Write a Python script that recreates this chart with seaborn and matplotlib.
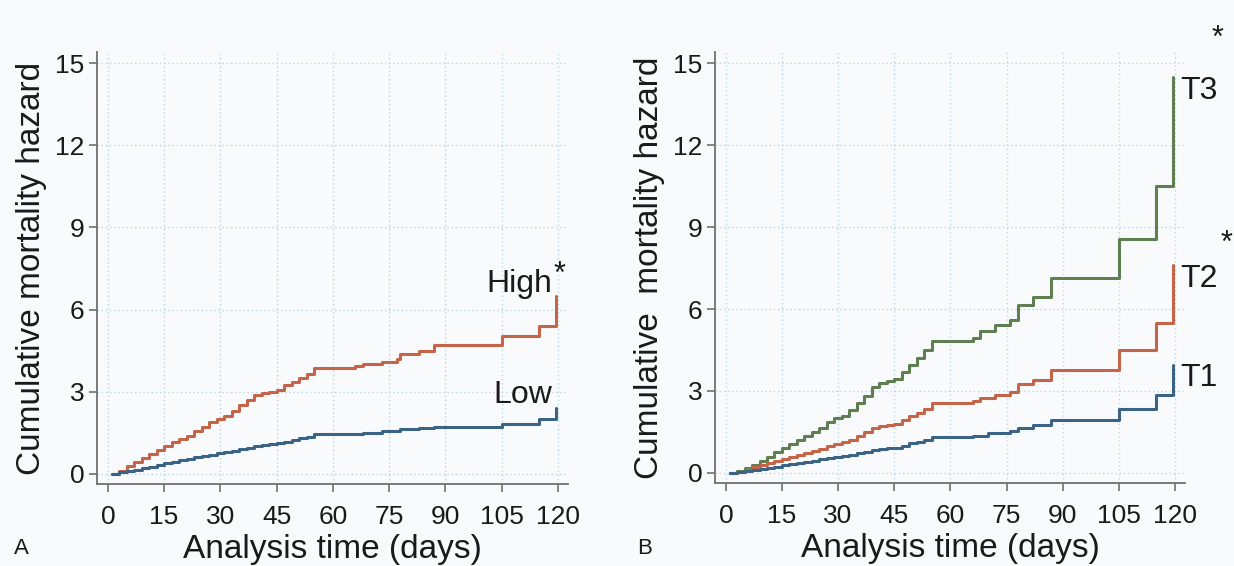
import numpy as np
import pandas as pd
import matplotlib
matplotlib.use("Agg")
import matplotlib.pyplot as plt
import seaborn as sns

# step times (days) - early part read every 2 days, then the visible steps
early_t = [1, 3, 5, 7, 9, 11, 13, 15, 17, 19, 21, 23, 25, 27, 29, 31, 33, 35,
           37, 39, 41, 43, 45, 47, 49, 51, 53, 55]

# panel A
a_late_t = [66, 68, 73, 77, 78, 83, 87, 105, 115, 119.5]
high_vals = [0, 0.12, 0.28, 0.42, 0.58, 0.72, 0.88, 1.02, 1.15, 1.27, 1.4, 1.55,
             1.7, 1.88, 2.0, 2.12, 2.3, 2.5, 2.7, 2.88, 2.95, 3.0, 3.08, 3.25,
             3.35, 3.5, 3.65, 3.85,
             3.95, 4.02, 4.1, 4.2, 4.38, 4.5, 4.7, 5.05, 5.4, 6.5]
low_vals = [0, 0.05, 0.1, 0.15, 0.2, 0.26, 0.32, 0.4, 0.45, 0.5, 0.55, 0.6,
            0.65, 0.7, 0.75, 0.8, 0.85, 0.9, 0.95, 1.02, 1.07, 1.1, 1.12, 1.18,
            1.25, 1.3, 1.35, 1.44,
            1.46, 1.5, 1.55, 1.58, 1.62, 1.66, 1.72, 1.82, 2.0, 2.42]

# panel B
b_late_t = [66, 68, 72, 76, 78, 82, 87, 105, 115, 119.5]
t3_vals = [0, 0.08, 0.18, 0.3, 0.45, 0.6, 0.75, 0.92, 1.05, 1.2, 1.35, 1.5,
           1.65, 1.85, 2.0, 2.1, 2.3, 2.55, 2.8, 3.15, 3.3, 3.35, 3.45, 3.7,
           3.95, 4.2, 4.5, 4.82,
           4.95, 5.2, 5.4, 5.6, 6.15, 6.45, 7.15, 8.56, 10.5, 14.5]
t2_vals = [0, 0.05, 0.12, 0.2, 0.28, 0.36, 0.44, 0.52, 0.58, 0.65, 0.72, 0.8,
           0.88, 0.97, 1.05, 1.12, 1.22, 1.35, 1.5, 1.65, 1.72, 1.75, 1.8, 1.95,
           2.1, 2.2, 2.35, 2.56,
           2.62, 2.75, 2.85, 2.95, 3.25, 3.42, 3.76, 4.5, 5.5, 7.6]
t1_vals = [0, 0.03, 0.06, 0.1, 0.14, 0.18, 0.23, 0.28, 0.32, 0.36, 0.4, 0.45,
           0.5, 0.55, 0.59, 0.62, 0.67, 0.72, 0.78, 0.85, 0.88, 0.9, 0.93, 1.0,
           1.08, 1.12, 1.2, 1.3,
           1.35, 1.45, 1.52, 1.65, 1.75, 1.95, 2.35, 2.85, 3.95]
t1_late_t = [66, 70, 76, 78, 82, 87, 105, 115, 119.5]

x_ticks = [0, 15, 30, 45, 60, 75, 90, 105, 120]
y_ticks = [0, 3, 6, 9, 12, 15]

RED = "#c4654a"
BLUE = "#3b6384"
GREEN = "#5f7f52"
BG = "#f9fafc"
INK = "#1a1a1a"

sns.set_theme(style="ticks")
plt.rcParams["font.family"] = ["Liberation Sans", "DejaVu Sans"]

fig = plt.figure(figsize=(12.34, 5.66), dpi=100, facecolor=BG)
axA = fig.add_axes([0.0786, 0.1449, 0.3817, 0.763])
axB = fig.add_axes([0.5794, 0.1466, 0.3809, 0.761])

dfA = pd.concat([
    pd.DataFrame({"t": early_t + a_late_t, "h": high_vals, "grp": "High"}),
    pd.DataFrame({"t": early_t + a_late_t, "h": low_vals, "grp": "Low"}),
])
dfB = pd.concat([
    pd.DataFrame({"t": early_t + b_late_t, "h": t3_vals, "grp": "T3"}),
    pd.DataFrame({"t": early_t + b_late_t, "h": t2_vals, "grp": "T2"}),
    pd.DataFrame({"t": early_t + t1_late_t, "h": t1_vals, "grp": "T1"}),
])

sns.lineplot(data=dfA, x="t", y="h", hue="grp", palette={"High": RED, "Low": BLUE},
             estimator=None, drawstyle="steps-post", linewidth=2.2, legend=False, ax=axA)
sns.lineplot(data=dfB, x="t", y="h", hue="grp",
             palette={"T3": GREEN, "T2": RED, "T1": BLUE},
             estimator=None, drawstyle="steps-post", linewidth=2.2, legend=False, ax=axB)

for ax, ylab in [(axA, "Cumulative mortality hazard"), (axB, "Cumulative  mortality hazard")]:
    ax.set_facecolor(BG)
    ax.set_xlim(-2.9, 122.7)
    ax.set_ylim(-0.37, 15.4)
    ax.set_xticks(x_ticks)
    ax.set_yticks(y_ticks)
    ax.grid(True, linestyle=(0, (1, 2)), color="#bcd6e4", linewidth=1.0)
    ax.set_axisbelow(True)
    for s in ["top", "right"]:
        ax.spines[s].set_visible(False)
    for s in ["left", "bottom"]:
        ax.spines[s].set_color("#707070")
        ax.spines[s].set_linewidth(1.3)
    ax.tick_params(direction="out", length=6, width=1.2, color="#707070",
                   labelsize=19, labelcolor=INK, pad=3)
    ax.tick_params(axis="x", pad=9)
    ax.set_xlabel("Analysis time (days)", fontsize=24, color=INK, labelpad=4)
    ax.set_ylabel(ylab, fontsize=24, color=INK, labelpad=6)

# curve labels
axA.text(118.4, 6.64, "High", fontsize=23, ha="right", va="baseline", color=INK)
axA.text(120.3, 6.7, "*", fontsize=22, ha="center", va="bottom", color=INK)
axA.text(118.4, 2.6, "Low", fontsize=23, ha="right", va="baseline", color=INK)

axB.text(121.3, 13.7, "T3", fontsize=23, ha="left", va="baseline", color=INK, clip_on=False)
axB.text(121.3, 6.82, "T2", fontsize=23, ha="left", va="baseline", color=INK, clip_on=False)
axB.text(121.3, 3.18, "T1", fontsize=23, ha="left", va="baseline", color=INK, clip_on=False)
axB.text(131.5, 15.9, "*", fontsize=22, ha="center", va="center", color=INK, clip_on=False)
axB.text(133.8, 8.4, "*", fontsize=22, ha="center", va="center", color=INK, clip_on=False)

fig.text(0.011, 0.022, "A", fontsize=16, color=INK)
fig.text(0.516, 0.022, "B", fontsize=16, color=INK)

fig.savefig("out.png", dpi=100, facecolor=BG)
